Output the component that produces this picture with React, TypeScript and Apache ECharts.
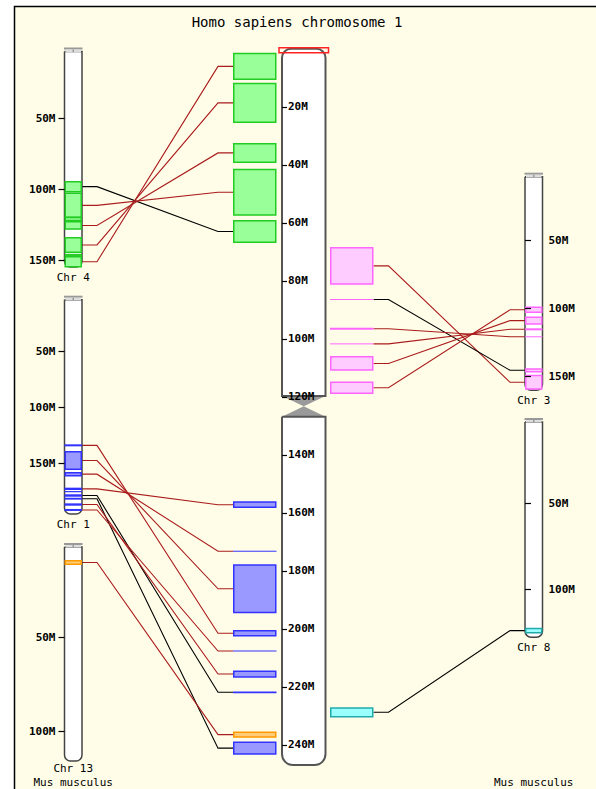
import React, { useEffect, useRef } from 'react';
import * as echarts from 'echarts';

// ---------------- data ----------------
const TITLE = 'Homo sapiens chromosome 1';
const MOUSE_SPECIES = 'Mus musculus';

const humanLength = 247;
const humanCentromere = [119.7, 126.9];
const humanTicks = [20, 40, 60, 80, 100, 120, 140, 160, 180, 200, 220, 240];
const humanHighlight = [-0.4, 1.4];

const mouseChrNames = ['Chr 4', 'Chr 1', 'Chr 13', 'Chr 3', 'Chr 8'];
const mouseChrLengths = [154.6, 195, 116, 160, 128];
const mouseChrTicks = [[50, 100, 150], [50, 100, 150], [50, 100], [50, 100, 150], [50, 100]];

// [mouseStart, mouseEnd, humanStart, humanEnd, strand]  (Mb)
const chr4Blocks = [
  [94.5, 101.5, 59.3, 66.7, 1],
  [102.7, 119.6, 41.6, 57.3, -1],
  [122.7, 127.9, 32.7, 39.1, -1],
  [133.9, 144.2, 12.0, 25.3, -1],
  [147.3, 154.4, 1.6, 10.5, -1],
];
const chr4Extra = [[119.8, 121.8], [145.3, 146.8]];

const chr1Blocks = [
  [132.7, 134.5, 200.7, 202.4, -1],
  [139.3, 155.0, 178.0, 194.4, -1],
  [158.0, 160.7, 173.1, 173.4, -1],
  [171.4, 173.5, 156.3, 158.1, -1],
  [177.3, 179.5, 221.6, 222.2, 1],
  [180.4, 182.1, 239.1, 243.2, 1],
  [185.4, 187.5, 214.6, 216.6, -1],
  [190.4, 192.2, 207.5, 207.8, -1],
];
const chr1Extra = [[174.4, 175.5]];

const chr13Blocks = [[9.4, 11.3, 235.7, 237.3, -1]];

const chr3Blocks = [
  [149.2, 159.0, 68.6, 81.1, -1],
  [144.3, 146.3, 86.3, 86.6, 1],
  [120.3, 121.0, 96.2, 96.9, -1],
  [114.4, 115.9, 101.6, 101.9, -1],
  [106.3, 111.2, 106.2, 110.8, -1],
  [99.0, 102.6, 115.0, 118.8, -1],
];

const chr8Blocks = [[123.0, 125.4, 227.3, 230.3, 1]];

const blockSets = [chr4Blocks, chr1Blocks, chr13Blocks, chr3Blocks, chr8Blocks];
const extraSets = [chr4Extra, chr1Extra, [], [], []];

// ---------------- layout / style ----------------
const FONT = "'DejaVu Sans Mono', 'Liberation Mono', monospace";
const MOUSE_W = 17.5;
const mouseLayout = [
  { left: 64.5, top: 47.5, scale: 1.42, side: 'left' },
  { left: 64.5, top: 295.7, scale: 1.12, side: 'left' },
  { left: 64.5, top: 543, scale: 1.88, side: 'left' },
  { left: 525, top: 172.7, scale: 1.36, side: 'right' },
  { left: 525, top: 418, scale: 1.712, side: 'right' },
];
const HUMAN_TOP = 48.8;
const HUMAN_SCALE = 2.9;
const humanGrids = [
  { left: 233, width: 43.5 }, // left block column
  { left: 282, width: 43.5 }, // chromosome
  { left: 330, width: 43.5 }, // right block column
];
const palette = [
  { fill: '#99ff99', stroke: '#22cc22' },
  { fill: '#9999ff', stroke: '#3333ff' },
  { fill: '#ffcc77', stroke: '#ff9900' },
  { fill: '#ffccff', stroke: '#ff66ff' },
  { fill: '#99ffff', stroke: '#22aaaa' },
];
const RED = '#aa1c1c';
const BLACK = '#000000';
const STUB = 15;

const blockRender = (params: any, api: any) => {
  const s = api.value(1);
  const e = api.value(2);
  const c = palette[api.value(3)];
  const p0 = api.coord([0, s]);
  const p1 = api.coord([1, e]);
  const h = p1[1] - p0[1];
  if (h < 2.5) {
    const ym = (p0[1] + p1[1]) / 2;
    return {
      type: 'line',
      shape: { x1: p0[0], y1: ym, x2: p1[0], y2: ym },
      style: { stroke: c.stroke, lineWidth: Math.max(1, h) },
    };
  }
  return {
    type: 'rect',
    shape: { x: p0[0] + 0.75, y: p0[1], width: p1[0] - p0[0] - 1.5, height: h },
    style: { fill: c.fill, stroke: c.stroke, lineWidth: 1.5 },
  };
};

const mouseChrRender = (params: any, api: any) => {
  const p0 = api.coord([0, api.value(1)]);
  const p1 = api.coord([1, api.value(2)]);
  const x = p0[0];
  const w = p1[0] - p0[0];
  const y0 = p0[1];
  const y1 = p1[1];
  return {
    type: 'group',
    children: [
      {
        type: 'rect',
        shape: { x: x, y: y0 + 4, width: w, height: y1 - y0 - 4, r: [0, 0, 6, 6] },
        style: { fill: '#ffffff', stroke: '#444444', lineWidth: 1.5 },
      },
      { type: 'rect', shape: { x: x - 0.5, y: y0, width: w + 1, height: 2 }, style: { fill: '#999999' } },
      { type: 'rect', shape: { x: x + 1, y: y0 + 2, width: w - 2, height: 2.5 }, style: { fill: '#dddddd' } },
      { type: 'rect', shape: { x: x + w / 2 - 0.75, y: y0 + 2, width: 1.5, height: 2.5 }, style: { fill: '#999999' } },
    ],
  };
};

const humanChrRender = (params: any, api: any) => {
  const p0 = api.coord([0, api.value(1)]);
  const p1 = api.coord([1, api.value(2)]);
  const c0 = api.coord([0, api.value(3)])[1];
  const c1 = api.coord([0, api.value(4)])[1];
  const x = p0[0];
  const w = p1[0] - p0[0];
  const xm = x + w / 2;
  const cm = (c0 + c1) / 2;
  return {
    type: 'group',
    children: [
      {
        type: 'polygon',
        shape: { points: [[x, c0], [x + w, c0], [xm, cm]] },
        style: { fill: '#9a9a9a' },
      },
      {
        type: 'polygon',
        shape: { points: [[x, c1], [x + w, c1], [xm, cm]] },
        style: { fill: '#9a9a9a' },
      },
      {
        type: 'rect',
        shape: { x: x, y: p0[1], width: w, height: c0 - p0[1], r: [9, 9, 0, 0] },
        style: { fill: '#ffffff', stroke: '#555555', lineWidth: 2 },
      },
      {
        type: 'rect',
        shape: { x: x, y: c1, width: w, height: p1[1] - c1, r: [0, 0, 11, 11] },
        style: { fill: '#ffffff', stroke: '#555555', lineWidth: 2 },
      },
    ],
  };
};

const highlightRender = (params: any, api: any) => {
  const p0 = api.coord([0, api.value(1)]);
  const p1 = api.coord([1, api.value(2)]);
  return {
    type: 'rect',
    shape: { x: p0[0] - 3, y: p0[1], width: p1[0] - p0[0] + 6, height: p1[1] - p0[1] },
    style: { fill: 'rgba(255,255,255,0)', stroke: '#ff2222', lineWidth: 1.5 },
  };
};

function buildOption() {
  const grids: any[] = [];
  const xAxes: any[] = [];
  const yAxes: any[] = [];
  const series: any[] = [];

  mouseLayout.forEach((l, i) => {
    const len = mouseChrLengths[i];
    grids.push({ left: l.left, top: l.top, width: MOUSE_W, height: len * l.scale, outerBoundsMode: 'none', containLabel: false });
    xAxes.push({ gridIndex: i, type: 'value', min: 0, max: 1, show: false });
    yAxes.push({
      gridIndex: i,
      type: 'value',
      min: 0,
      max: len,
      inverse: true,
      position: l.side,
      z: 10,
      axisLine: { show: false },
      splitLine: { show: false },
      axisTick: { show: true, length: 6, customValues: mouseChrTicks[i], lineStyle: { color: '#000', width: 1.2 } },
      axisLabel: {
        customValues: mouseChrTicks[i],
        formatter: (v: number) => v + 'M',
        margin: l.side === 'left' ? 9 : 6,
        color: '#000',
        fontFamily: FONT,
        fontSize: 11,
        fontWeight: 'bold',
      },
    });
  });

  humanGrids.forEach((g, k) => {
    const gi = 5 + k;
    grids.push({ left: g.left, top: HUMAN_TOP, width: g.width, height: humanLength * HUMAN_SCALE, outerBoundsMode: 'none', containLabel: false });
    xAxes.push({ gridIndex: gi, type: 'value', min: 0, max: 1, show: false });
    if (k === 1) {
      yAxes.push({
        gridIndex: gi,
        type: 'value',
        min: 0,
        max: humanLength,
        inverse: true,
        position: 'left',
        z: 10,
        axisLine: { show: false },
        splitLine: { show: false },
        axisTick: { show: true, inside: true, length: 5, customValues: humanTicks, lineStyle: { color: '#000', width: 1.2 } },
        axisLabel: {
          inside: true,
          customValues: humanTicks,
          formatter: (v: number) => v + 'M',
          margin: 6,
          color: '#000',
          fontFamily: FONT,
          fontSize: 11,
          fontWeight: 'bold',
        },
      });
    } else {
      yAxes.push({ gridIndex: gi, type: 'value', min: 0, max: humanLength, inverse: true, show: false });
    }
  });

  // mouse chromosomes
  mouseLayout.forEach((l, i) => {
    series.push({
      type: 'custom',
      name: mouseChrNames[i],
      xAxisIndex: i,
      yAxisIndex: i,
      z: 2,
      encode: { x: 0, y: [1, 2] },
      data: [[0, 0, mouseChrLengths[i]]],
      renderItem: mouseChrRender,
      silent: true,
    });
    const segs: any[] = blockSets[i].map((b) => [0, b[0], b[1], i]);
    extraSets[i].forEach((e) => segs.push([0, e[0], e[1], i]));
    series.push({
      type: 'custom',
      xAxisIndex: i,
      yAxisIndex: i,
      z: 3,
      encode: { x: 0, y: [1, 2] },
      data: segs,
      renderItem: blockRender,
      silent: true,
    });
  });

  // human chromosome
  series.push({
    type: 'custom',
    name: 'Human chr1',
    xAxisIndex: 6,
    yAxisIndex: 6,
    z: 2,
    encode: { x: 0, y: [1, 2] },
    data: [[0, 0, humanLength, humanCentromere[0], humanCentromere[1]]],
    renderItem: humanChrRender,
    silent: true,
  });
  series.push({
    type: 'custom',
    xAxisIndex: 6,
    yAxisIndex: 6,
    z: 4,
    encode: { x: 0, y: [1, 2] },
    data: [[0, humanHighlight[0], humanHighlight[1]]],
    renderItem: highlightRender,
    silent: true,
  });

  const leftHuman: any[] = [];
  const rightHuman: any[] = [];
  blockSets.forEach((set, i) => {
    set.forEach((b) => {
      const item = [0, b[2], b[3], i];
      if (mouseLayout[i].side === 'left') leftHuman.push(item);
      else rightHuman.push(item);
    });
  });
  series.push({
    type: 'custom', xAxisIndex: 5, yAxisIndex: 5, z: 3,
    encode: { x: 0, y: [1, 2] }, data: leftHuman, renderItem: blockRender, silent: true,
  });
  series.push({
    type: 'custom', xAxisIndex: 7, yAxisIndex: 7, z: 3,
    encode: { x: 0, y: [1, 2] }, data: rightHuman, renderItem: blockRender, silent: true,
  });

  return { grid: grids, xAxis: xAxes, yAxis: yAxes, series };
}

function staticGraphics() {
  const g: any[] = [
    {
      type: 'rect',
      z: -10,
      silent: true,
      shape: { x: 14.5, y: 6.5, width: 640, height: 840 },
      style: { fill: '#fffde8', stroke: '#000000', lineWidth: 1.5 },
    },
    {
      type: 'text',
      z: 20,
      silent: true,
      style: { text: TITLE, x: 297, y: 22, fill: '#000', font: `14px ${FONT}`, textAlign: 'center', textVerticalAlign: 'middle' },
    },
  ];
  mouseLayout.forEach((l, i) => {
    g.push({
      type: 'text',
      z: 20,
      silent: true,
      style: {
        text: mouseChrNames[i],
        x: l.left + MOUSE_W / 2,
        y: Math.min(l.top + mouseChrLengths[i] * l.scale + 10, 768.5),
        fill: '#000',
        font: `11px ${FONT}`,
        textAlign: 'center',
        textVerticalAlign: 'middle',
      },
    });
  });
  [73.25, 533.75].forEach((x) => {
    g.push({
      type: 'text',
      z: 20,
      silent: true,
      style: { text: MOUSE_SPECIES, x, y: 782, fill: '#000', font: `11px ${FONT}`, textAlign: 'center', textVerticalAlign: 'middle' },
    });
  });
  return g;
}

export default function App() {
  const ref = useRef<HTMLDivElement>(null);
  useEffect(() => {
    if (!ref.current) return;
    const chart = echarts.init(ref.current, null, { renderer: 'svg' });
    const option: any = buildOption();
    chart.setOption({ animation: false, ...option, graphic: staticGraphics() });

    const px = (gi: number, x: number, y: number) => chart.convertToPixel({ gridIndex: gi } as any, [x, y]) as number[];
    const lines: any[] = [];
    blockSets.forEach((set, i) => {
      set.forEach((b) => {
        const mMid = (b[0] + b[1]) / 2;
        const hMid = (b[2] + b[3]) / 2;
        const color = b[4] > 0 ? BLACK : RED;
        let pts: number[][];
        if (mouseLayout[i].side === 'left') {
          const m = px(i, 1, mMid);
          const h = px(5, 0, hMid);
          pts = [[m[0], m[1]], [m[0] + STUB, m[1]], [h[0] - STUB, h[1]], [h[0], h[1]]];
        } else {
          const h = px(7, 1, hMid);
          const m = px(i, 0, mMid);
          pts = [[h[0], h[1]], [h[0] + STUB, h[1]], [m[0] - STUB, m[1]], [m[0], m[1]]];
        }
        lines.push({
          type: 'polyline',
          z: 1,
          silent: true,
          shape: { points: pts },
          style: { stroke: color, lineWidth: 1.1, fill: null },
        });
      });
    });
    chart.setOption({ graphic: [...staticGraphics(), ...lines] });
    return () => chart.dispose();
  }, []);
  return <div ref={ref} style={{ position: 'absolute', left: 0, top: 0, width: 596, height: 789 }} />;
}
